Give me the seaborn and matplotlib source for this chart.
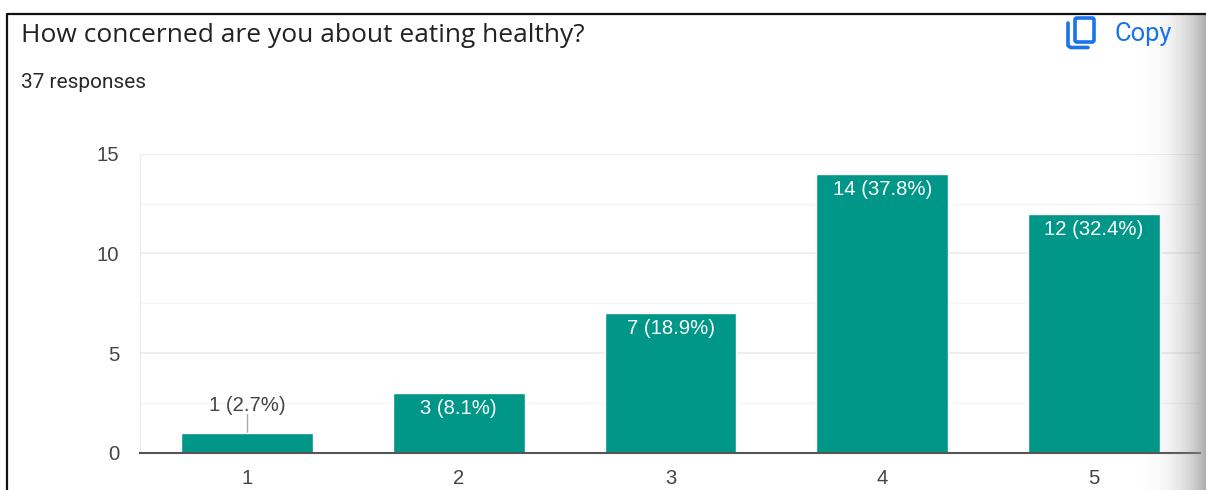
import numpy as np
import pandas as pd
import matplotlib
matplotlib.use("Agg")
import matplotlib.pyplot as plt
from matplotlib.patches import FancyBboxPatch
from matplotlib.lines import Line2D
import seaborn as sns

categories = ["1", "2", "3", "4", "5"]
counts = [1, 3, 7, 14, 12]
labels = ["1 (2.7%)", "3 (8.1%)", "7 (18.9%)", "14 (37.8%)", "12 (32.4%)"]
title = "How concerned are you about eating healthy?"
subtitle = "37 responses"
major_ticks = [0, 5, 10, 15]
minor_ticks = [2.5, 7.5, 12.5]

W, H = 1206, 490
sns.set_theme(style="white")
plt.rcParams["font.family"] = ["Liberation Sans", "DejaVu Sans"]

fig = plt.figure(figsize=(W / 100, H / 100), dpi=100, facecolor="white")
ax = fig.add_axes([140 / W, 1 - 452.8 / H, 1060 / W, 299 / H])

df = pd.DataFrame({"rating": categories, "count": counts})
sns.barplot(data=df, x="rating", y="count", color="#009688", saturation=1,
            width=0.622, ax=ax, zorder=3)
ax.set_xlim(-0.505, 4.5)
ax.set_ylim(0, 15)
ax.set_xlabel("")
ax.set_ylabel("")
ax.set_yticks(major_ticks)
ax.set_yticks(minor_ticks, minor=True)
ax.grid(True, which="major", axis="y", color="#ebebeb", lw=1.2, zorder=0)
ax.grid(True, which="minor", axis="y", color="#f5f5f5", lw=1.0, zorder=0)
ax.tick_params(axis="both", which="both", length=0)
ax.tick_params(axis="x", labelsize=14.6, labelcolor="#444444", pad=11.5)
ax.tick_params(axis="y", labelsize=14.6, labelcolor="#444444", pad=15)
for s in ["top", "right"]:
    ax.spines[s].set_visible(False)
ax.spines["left"].set_color("#ececec")
ax.spines["left"].set_linewidth(1.0)
ax.spines["bottom"].set_color("#555555")
ax.spines["bottom"].set_linewidth(1.5)
ax.spines["bottom"].set_zorder(5)

for i, (c, lab) in enumerate(zip(counts, labels)):
    if c == 1:
        ax.plot([i, i], [c, c + 0.95], color="#aaaaaa", lw=1, zorder=2)
        ax.text(i, c + 0.9, lab, ha="center", va="bottom", fontsize=14.6,
                color="#444444", zorder=4)
    else:
        ax.text(i, c - 0.3, lab, ha="center", va="top", fontsize=14.6,
                color="white", zorder=4)

# page overlay in pixel coordinates
ov = fig.add_axes([0, 0, 1, 1], zorder=10)
ov.set_xlim(0, W)
ov.set_ylim(H, 0)
ov.axis("off")
ov.patch.set_alpha(0)

# right-edge shadow
grad = np.linspace(0, 1, 80) ** 3
rgba = np.zeros((1, 80, 4))
rgba[..., :3] = 0.55
rgba[..., 3] = grad * 0.7
ov.imshow(rgba, extent=(1126, W, H, 14), aspect="auto", interpolation="bilinear", zorder=1)
ov.set_xlim(0, W)
ov.set_ylim(H, 0)

# frame
ov.add_line(Line2D([7, 7], [14, H], color="#111111", lw=1.6, zorder=3))
ov.add_line(Line2D([7, W], [14, 14], color="#111111", lw=1.6, zorder=3))

ov.text(21, 36, title, fontsize=19, family=["Open Sans", "DejaVu Sans"], color="#222222",
        ha="left", va="center")
ov.text(21, 83, subtitle, fontsize=15, family=["Roboto", "DejaVu Sans"], color="#2a2a2a",
        ha="left", va="center")
ov.text(1115, 34, "Copy", fontsize=18.4, family=["Roboto", "DejaVu Sans"], color="#1a73e8",
        ha="left", va="center")

# copy icon
blue = "#1a73e8"
ov.add_patch(FancyBboxPatch((1075, 18), 19, 24, boxstyle="round,pad=0,rounding_size=2",
                            fc="none", ec=blue, lw=2.6, zorder=3))
ov.add_line(Line2D([1068, 1068, 1070.5, 1088], [23, 45.5, 47.5, 47.5], color=blue, lw=2.6, zorder=3))

fig.savefig("out.png", dpi=100, facecolor="white")
